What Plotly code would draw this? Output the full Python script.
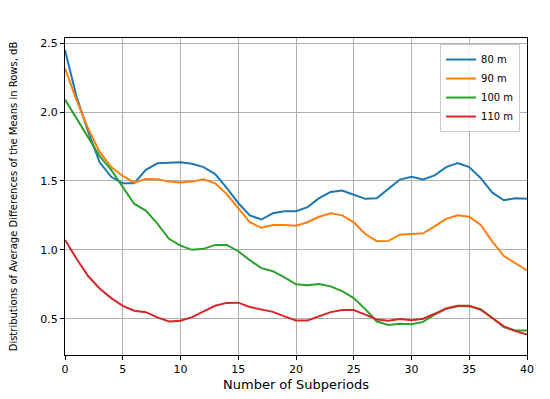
import plotly.graph_objects as go

subperiods = list(range(41))

series_names = ["80 m", "90 m", "100 m", "110 m"]

vals_80 = [2.45, 2.11, 1.86, 1.635, 1.53, 1.483, 1.483, 1.58, 1.628, 1.63, 1.635,
           1.625, 1.60, 1.55, 1.45, 1.34, 1.25, 1.22, 1.265, 1.28, 1.28,
           1.31, 1.375, 1.42, 1.43, 1.40, 1.37, 1.375, 1.44, 1.51, 1.53,
           1.51, 1.54, 1.60, 1.63, 1.60, 1.52, 1.415, 1.36, 1.375, 1.37]

vals_90 = [2.316, 2.087, 1.88, 1.71, 1.60, 1.536, 1.488, 1.514, 1.512, 1.495, 1.488,
           1.495, 1.512, 1.483, 1.405, 1.30, 1.20, 1.16, 1.18, 1.18, 1.175,
           1.20, 1.24, 1.265, 1.25, 1.20, 1.115, 1.063, 1.065, 1.11, 1.115,
           1.12, 1.17, 1.225, 1.25, 1.24, 1.18, 1.06, 0.955, 0.90, 0.85]

vals_100 = [2.09, 1.954, 1.815, 1.68, 1.58, 1.46, 1.333, 1.285, 1.19, 1.08, 1.03,
            1.0, 1.007, 1.036, 1.036, 0.99, 0.925, 0.867, 0.845, 0.80, 0.75,
            0.743, 0.752, 0.735, 0.70, 0.65, 0.57, 0.48, 0.455, 0.464, 0.46,
            0.477, 0.53, 0.572, 0.59, 0.59, 0.57, 0.505, 0.44, 0.415, 0.415]

vals_110 = [1.072, 0.935, 0.81, 0.72, 0.65, 0.594, 0.558, 0.548, 0.51, 0.48, 0.486,
            0.512, 0.553, 0.594, 0.615, 0.617, 0.585, 0.565, 0.55, 0.517, 0.488,
            0.488, 0.52, 0.548, 0.563, 0.563, 0.53, 0.495, 0.486, 0.498, 0.49,
            0.5, 0.536, 0.575, 0.594, 0.594, 0.565, 0.505, 0.445, 0.41, 0.385]

x_ticks = [0, 5, 10, 15, 20, 25, 30, 35, 40]
y_ticks = [0.5, 1.0, 1.5, 2.0, 2.5]
y_tick_labels = ["0.5", "1.0", "1.5", "2.0", "2.5"]

colors = ["#1f77b4", "#ff7f0e", "#2ca02c", "#d62728"]

fig = go.Figure()
for name, vals, c in zip(series_names, [vals_80, vals_90, vals_100, vals_110], colors):
    fig.add_trace(go.Scatter(x=subperiods, y=vals, mode="lines", name=name,
                             line=dict(color=c, width=2)))

axis_common = dict(showline=True, linecolor="black", linewidth=1, mirror=True,
                   ticks="outside", ticklen=4, tickcolor="black", tickwidth=1,
                   showgrid=True, gridcolor="#b0b0b0", gridwidth=1, zeroline=False,
                   automargin=False)

# page body has an 8px margin, so the figure is sized to fit the 550x399 window
fig.update_layout(
    width=542, height=391,
    margin=dict(l=57, r=23, t=30, b=44),
    paper_bgcolor="white", plot_bgcolor="white",
    font=dict(family="DejaVu Sans", size=11, color="black"),
    xaxis=dict(range=[0, 40], tickvals=x_ticks,
               title=dict(text="Number of Subperiods", standoff=4), **axis_common),
    yaxis=dict(range=[0.237, 2.537], tickvals=y_ticks, ticktext=y_tick_labels,
               title=dict(text="Distributions of Average Differences of the Means in Rows, dB",
                          font=dict(size=10), standoff=20), **axis_common),
    legend=dict(x=0.985, y=0.981, xanchor="right", yanchor="top",
                bgcolor="rgba(255,255,255,0.85)", bordercolor="#cccccc", borderwidth=1,
                font=dict(size=10), tracegroupgap=0),
    showlegend=True,
)

fig.write_html("out.html")
